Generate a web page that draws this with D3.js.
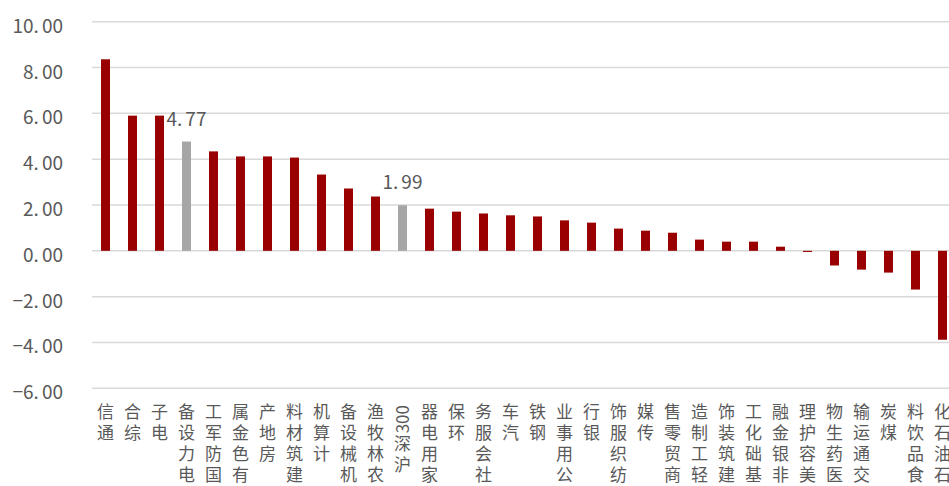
<!DOCTYPE html>
<html>
<head>
<meta charset="utf-8">
<script src="https://cdn.jsdelivr.net/npm/d3@7"></script>
<style>
  html, body { margin: 0; padding: 0; background: #fff; overflow: hidden; }
  svg { display: block; }
</style>
</head>
<body>
<svg id="chart" width="949" height="486"></svg>
<script>
const categories = ["通信","综合","电子","电力设备","国防军工","有色金属","房地产","建筑材料","计算机","机械设备","农林牧渔","沪深300","家用电器","环保","社会服务","汽车","钢铁","公用事业","银行","纺织服饰","传媒","商贸零售","轻工制造","建筑装饰","基础化工","非银金融","美容护理","医药生物","交通运输","煤炭","食品饮料","石油石化"];
const values = [8.36, 5.90, 5.90, 4.77, 4.34, 4.12, 4.12, 4.07, 3.33, 2.72, 2.37, 1.99, 1.84, 1.71, 1.63, 1.55, 1.50, 1.33, 1.23, 0.97, 0.88, 0.79, 0.49, 0.40, 0.40, 0.18, -0.05, -0.64, -0.82, -0.95, -1.69, -3.88];
const highlighted = ["电力设备", "沪深300"];
const yTicks = [-6, -4, -2, 0, 2, 4, 6, 8, 10];

const data = categories.map((c, i) => ({ name: c, value: values[i] }));

const svg = d3.select("#chart");
const FONT = "'Noto Sans CJK SC', 'Noto Sans', sans-serif";
const TEXT = "#595959";
const fmt = d3.format(".2f");

const x = d3.scaleBand()
  .domain(categories)
  .range([92, 92 + categories.length * 27])
  .paddingInner(0.667)
  .paddingOuter(0.3335);

const y = d3.scaleLinear().domain([-6, 10]).range([388.3, 21.7]);

// number text with a small gap after the decimal point (as in the reference font)
function numberText(sel, v) {
  const s = fmt(v);
  const i = s.indexOf(".");
  sel.append("tspan").text(s.slice(0, i + 1));
  sel.append("tspan").attr("dx", 3).text(s.slice(i + 1));
}

// gridlines
svg.append("g").selectAll("line").data(yTicks).join("line")
  .attr("x1", 92).attr("x2", 949)
  .attr("y1", d => y(d)).attr("y2", d => y(d))
  .attr("stroke", "#d9d9d9").attr("stroke-width", 1.5);

// y labels
svg.append("g").selectAll("text").data(yTicks).join("text")
  .attr("x", 63).attr("y", d => y(d) + 2)
  .attr("text-anchor", "end")
  .attr("dominant-baseline", "central")
  .attr("font-family", FONT).attr("font-size", 19)
  .attr("fill", TEXT)
  .each(function(d) { numberText(d3.select(this), d); });

// bars
svg.append("g").selectAll("rect").data(data).join("rect")
  .attr("x", d => x(d.name))
  .attr("width", x.bandwidth())
  .attr("y", d => y(Math.max(0, d.value)))
  .attr("height", d => Math.abs(y(d.value) - y(0)))
  .attr("fill", d => highlighted.includes(d.name) ? "#a6a6a6" : "#990000");

// data labels for highlighted
svg.append("g").selectAll("text").data(data.filter(d => highlighted.includes(d.name))).join("text")
  .attr("x", d => x(d.name) + x.bandwidth() / 2)
  .attr("y", d => y(d.value) - 16)
  .attr("text-anchor", "middle")
  .attr("font-family", FONT).attr("font-size", 19)
  .attr("fill", TEXT)
  .each(function(d) { numberText(d3.select(this), d.value); });

// x labels: one text per label, rotated -90 (reads bottom to top),
// with CJK glyphs turned back upright.
const labelG = svg.append("g");
const FS = 17, PITCH = 21, TOP = 403;
const measure = svg.append("text").attr("font-family", FONT).attr("font-size", FS).attr("visibility", "hidden");
function runLength(t) { measure.text(t); return measure.node().getComputedTextLength(); }

data.forEach(d => {
  const cx = x(d.name) + x.bandwidth() / 2;
  const tokens = d.name.match(/[A-Za-z0-9]+|./g);
  // compute screen top of each token, laying out from the top with reversed order
  const lens = tokens.map(t => /^[A-Za-z0-9]+$/.test(t) ? runLength(t) + 4 : PITCH);
  let s = TOP;
  const tops = new Array(tokens.length);
  for (let i = tokens.length - 1; i >= 0; i--) { tops[i] = s; s += lens[i]; }
  const txt = labelG.append("text")
    .attr("transform", `translate(${cx},0) rotate(-90)`)
    .attr("font-family", FONT).attr("font-size", FS)
    .attr("fill", TEXT);
  tokens.forEach((t, i) => {
    if (/^[A-Za-z0-9]+$/.test(t)) {
      const len = lens[i] - 4;
      txt.append("tspan")
        .attr("x", -(tops[i] + 2) - len)
        .attr("y", 0.36 * FS)
        .attr("rotate", 0)
        .text(t);
    } else {
      txt.append("tspan")
        .attr("x", -(tops[i]) - 0.88 * FS)
        .attr("y", -0.5 * FS)
        .attr("rotate", 90)
        .text(t);
    }
  });
});
measure.remove();
</script>
</body>
</html>
